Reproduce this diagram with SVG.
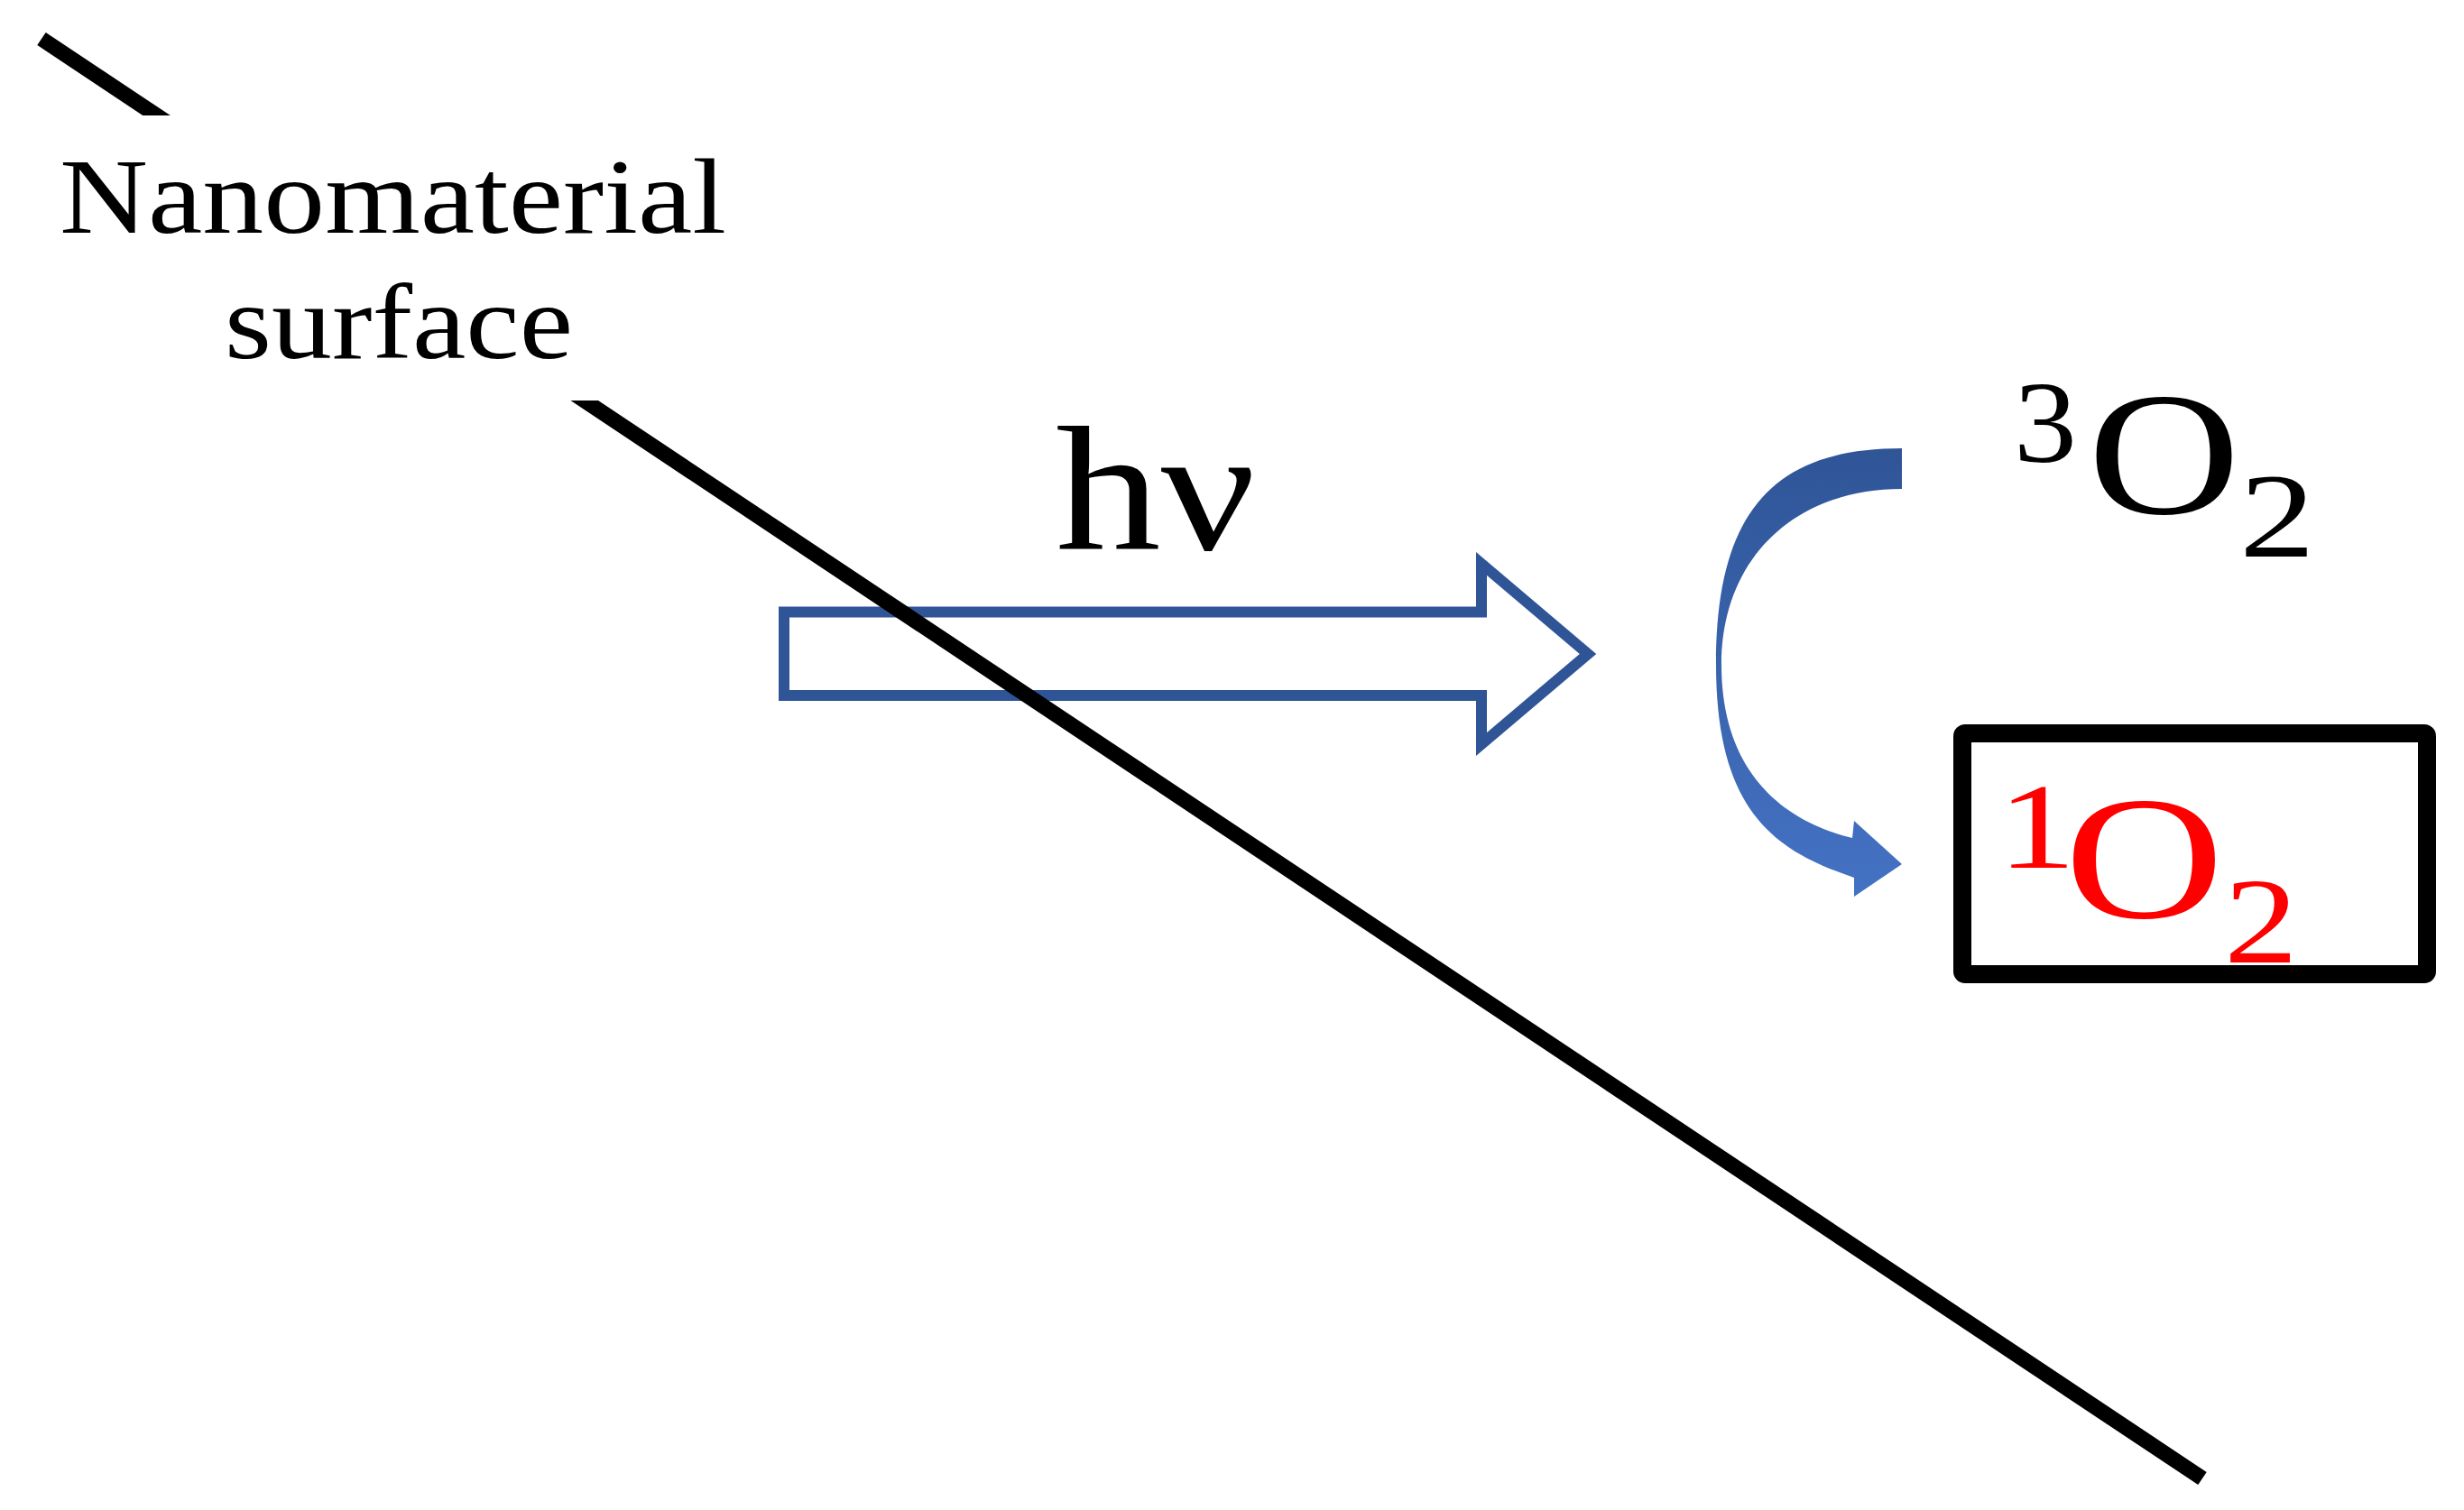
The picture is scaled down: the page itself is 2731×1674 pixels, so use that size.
<svg xmlns="http://www.w3.org/2000/svg" width="2731" height="1674" viewBox="0 0 2731 1674">
<style>
.serif{font-family:"Liberation Serif","Times New Roman",serif;}
.blk{fill:#000;}
.red{fill:#FF0000;}
</style>
<defs>
<linearGradient id="cg" x1="0" y1="0" x2="0" y2="1">
<stop offset="0" stop-color="#2F5597"/>
<stop offset="1" stop-color="#4472C4"/>
</linearGradient>
<clipPath id="gap">
<rect x="0" y="0" width="2731" height="128"/>
<rect x="0" y="444" width="2731" height="1230"/>
</clipPath>
</defs>
<rect width="2731" height="1674" fill="#fff"/>

<g id="light-arrow">
<path d="M869,678.5 L1642,678.5 L1642,625 L1760,725 L1642,825 L1642,771 L869,771 Z" fill="none" stroke="#2F5597" stroke-width="12"/>
</g>

<g id="surface-line" clip-path="url(#gap)">
<line x1="46" y1="43" x2="2441" y2="1639" stroke="#000" stroke-width="17"/>
</g>

<g id="label-surface">
<text class="serif blk" x="66" y="258" font-size="118" textLength="739" lengthAdjust="spacingAndGlyphs">Nanomaterial</text>
<text class="serif blk" x="249" y="397" font-size="118" textLength="386" lengthAdjust="spacingAndGlyphs">surface</text>
</g>

<g id="label-hv">
<text class="serif blk" x="1170" y="609" font-size="198" textLength="222" lengthAdjust="spacingAndGlyphs">hν</text>
</g>

<g id="connectors">
<path d="M2108,497 C1964,497 1902,569 1902,737 C1902,902 1970,944 2055,973 L2055,994 L2108,958 L2055,910 L2053,929 C1975,910 1908,855 1908,737 C1908,620 1988,542 2108,542 Z" fill="url(#cg)"/>
</g>

<g id="triplet-o2">
<text class="serif blk" x="2232" y="512" font-size="129" textLength="70" lengthAdjust="spacingAndGlyphs">3</text>
<text class="serif blk" x="2314" y="569" font-size="196" textLength="169" lengthAdjust="spacingAndGlyphs">O</text>
<text class="serif blk" x="2482" y="617" font-size="133" textLength="84" lengthAdjust="spacingAndGlyphs">2</text>
</g>

<g id="singlet-o2">
<rect x="2175" y="813" width="515" height="267" rx="3" fill="none" stroke="#000" stroke-width="20"/>
<text class="serif red" x="2214" y="962" font-size="135" textLength="87" lengthAdjust="spacingAndGlyphs">1</text>
<text class="serif red" x="2288" y="1017" font-size="195" textLength="177" lengthAdjust="spacingAndGlyphs">O</text>
<text class="serif red" x="2465" y="1067" font-size="135" textLength="82" lengthAdjust="spacingAndGlyphs">2</text>
</g>
</svg>
